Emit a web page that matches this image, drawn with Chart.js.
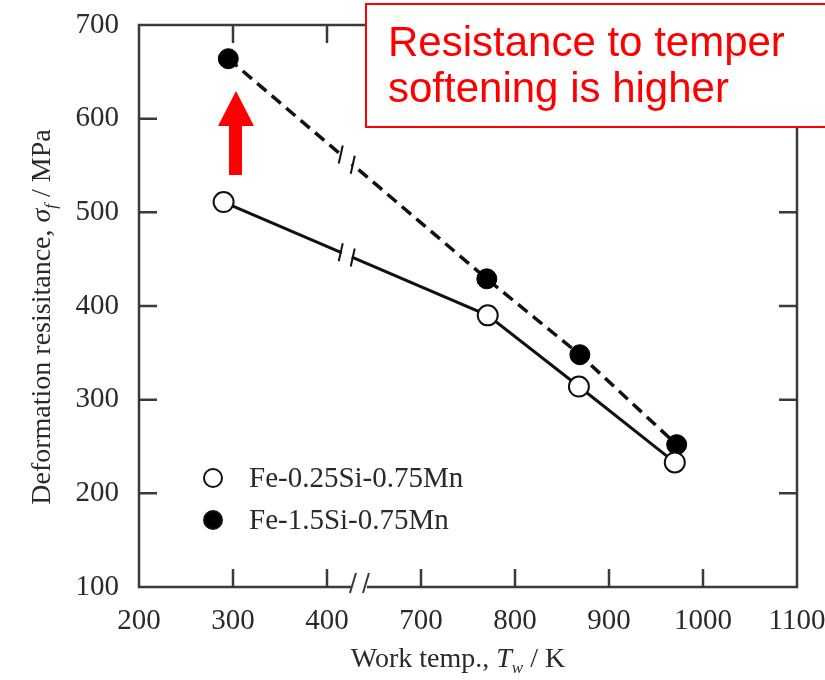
<!DOCTYPE html>
<html>
<head>
<meta charset="utf-8">
<title>Deformation resistance vs work temperature</title>
<script src="https://cdn.jsdelivr.net/npm/chart.js@4.4.0/dist/chart.umd.min.js"></script>
<style>
    html, body { margin: 0; padding: 0; background: #fff; }
    #wrap { width: 825px; height: 680px; position: relative; }
</style>
</head>
<body>
<div id="wrap"><canvas id="chart"></canvas></div>
<script>
// Data (work temperature in K, stress in MPa)
const lowSiTemps = [290, 771, 868, 970];
const lowSiValues = [511, 390, 314, 233];
const highSiTemps = [295, 770, 869, 972];
const highSiValues = [664, 429, 348, 252];
const seriesNames = ['Fe-0.25Si-0.75Mn', 'Fe-1.5Si-0.75Mn'];

// Broken x axis: 200-400 then 700-1100, one slot per tick
const xTickLabels = ['200', '300', '400', '700', '800', '900', '1000', '1100'];
const yTickValues = [100, 200, 300, 400, 500, 600, 700];

const serif = "'Liberation Serif', 'Times New Roman', serif";
const axisColor = '#3a3a3a';

// Map a temperature to its slot on the broken axis
function axisPos(t) {
    return t <= 550 ? (t - 200) / 100 : (t - 700) / 100 + 3;
}

function toPoints(temps, values) {
    return temps.map((t, i) => ({ x: axisPos(t), y: values[i] }));
}

// drop the label overflow padding so the plot box sits where the figure has it
function noScalePadding(scale) {
    scale.paddingTop = 0;
    scale.paddingBottom = 0;
    scale.paddingLeft = 0;
    scale.paddingRight = 0;
}

// Frame, inward ticks, axis break and titles
const framePlugin = {
    id: 'frame',
    beforeDatasetsDraw(chart) {
        const { ctx, chartArea: a, scales: { x, y } } = chart;
        const breakX = x.getPixelForValue(2.34);
        ctx.save();
        ctx.strokeStyle = axisColor;
        ctx.lineWidth = 2.5;
        ctx.lineCap = 'butt';

        // box with a gap in the bottom axis
        ctx.beginPath();
        ctx.moveTo(breakX - 7, a.bottom);
        ctx.lineTo(a.left, a.bottom);
        ctx.lineTo(a.left, a.top);
        ctx.lineTo(a.right, a.top);
        ctx.lineTo(a.right, a.bottom);
        ctx.lineTo(breakX + 8, a.bottom);
        ctx.stroke();

        // break slashes
        ctx.lineWidth = 2;
        [-6, 7].forEach(dx => {
            ctx.beginPath();
            ctx.moveTo(breakX + dx - 3, a.bottom + 6);
            ctx.lineTo(breakX + dx + 3, a.bottom - 14);
            ctx.stroke();
        });

        // inward tick marks
        ctx.lineWidth = 2.5;
        const tl = 18;
        for (let i = 1; i < xTickLabels.length - 1; i++) {
            const px = x.getPixelForValue(i);
            ctx.beginPath();
            ctx.moveTo(px, a.bottom);
            ctx.lineTo(px, a.bottom - tl);
            ctx.moveTo(px, a.top);
            ctx.lineTo(px, a.top + tl);
            ctx.stroke();
        }
        yTickValues.slice(1, -1).forEach(v => {
            const py = y.getPixelForValue(v);
            ctx.beginPath();
            ctx.moveTo(a.left, py);
            ctx.lineTo(a.left + tl, py);
            ctx.moveTo(a.right, py);
            ctx.lineTo(a.right - tl, py);
            ctx.stroke();
        });

        // x title: Work temp., Tw / K
        ctx.fillStyle = '#2a2a2a';
        ctx.textBaseline = 'alphabetic';
        const xParts = [
            { t: 'Work temp., ', f: '28px ' + serif, dy: 0 },
            { t: 'T', f: 'italic 28px ' + serif, dy: 0 },
            { t: 'w', f: 'italic 17px ' + serif, dy: 6 },
            { t: ' / K', f: '28px ' + serif, dy: 0 }
        ];
        drawParts(ctx, xParts, 458, 667);

        // y title, rotated
        ctx.translate(40, 317);
        ctx.rotate(-Math.PI / 2);
        const yParts = [
            { t: 'Deformation resisitance, ', f: '28px ' + serif, dy: 0 },
            { t: '\u03c3', f: 'italic 28px ' + serif, dy: 0 },
            { t: 'f', f: 'italic 17px ' + serif, dy: 6 },
            { t: ' / MPa', f: '28px ' + serif, dy: 0 }
        ];
        drawParts(ctx, yParts, 0, 10);
        ctx.restore();
    },
    afterDatasetsDraw(chart) {
        const { ctx, scales: { x, y } } = chart;
        // break marks on each line between the first two points
        chart.data.datasets.forEach((ds, i) => {
            const p0 = ds.data[0], p1 = ds.data[1];
            const x0 = x.getPixelForValue(p0.x), y0 = y.getPixelForValue(p0.y);
            const x1 = x.getPixelForValue(p1.x), y1 = y.getPixelForValue(p1.y);
            const bx = x.getPixelForValue(2.21);
            const yAt = px => y0 + (y1 - y0) * (px - x0) / (x1 - x0);
            ctx.save();
            ctx.strokeStyle = '#fff';
            ctx.lineWidth = 7;
            ctx.beginPath();
            ctx.moveTo(bx - 5, yAt(bx - 5));
            ctx.lineTo(bx + 5, yAt(bx + 5));
            ctx.stroke();
            ctx.strokeStyle = '#111';
            ctx.lineWidth = 2;
            [-6, 6].forEach(dx => {
                const cy = yAt(bx + dx);
                ctx.beginPath();
                ctx.moveTo(bx + dx - 2, cy + 9);
                ctx.lineTo(bx + dx + 2, cy - 9);
                ctx.stroke();
            });
            ctx.restore();
        });
    },
    afterDraw(chart) {
        const { ctx } = chart;
        ctx.save();
        // legend inside the plot
        const rows = [[213, 478], [213, 520]];
        chart.data.datasets.forEach((ds, i) => {
            const [cx, cy] = rows[i];
            ctx.beginPath();
            ctx.arc(cx, cy, 9, 0, Math.PI * 2);
            ctx.fillStyle = ds.pointBackgroundColor;
            ctx.fill();
            ctx.lineWidth = 2;
            ctx.strokeStyle = '#111';
            ctx.stroke();
            ctx.fillStyle = '#2a2a2a';
            ctx.font = '29px ' + serif;
            ctx.textBaseline = 'middle';
            ctx.textAlign = 'left';
            ctx.fillText(ds.label, 249, cy + 1);
        });

        // red arrow
        ctx.fillStyle = '#ff0000';
        ctx.beginPath();
        ctx.moveTo(236, 91);
        ctx.lineTo(254, 126);
        ctx.lineTo(242, 126);
        ctx.lineTo(242, 175);
        ctx.lineTo(229, 175);
        ctx.lineTo(229, 126);
        ctx.lineTo(218, 126);
        ctx.closePath();
        ctx.fill();

        // callout box
        ctx.fillStyle = '#fff';
        ctx.fillRect(366, 4, 470, 123);
        ctx.strokeStyle = '#ff0000';
        ctx.lineWidth = 2;
        ctx.strokeRect(366, 4, 470, 123);
        ctx.fillStyle = '#ff0000';
        ctx.font = "42px 'Liberation Sans', Arial, sans-serif";
        ctx.textBaseline = 'alphabetic';
        ctx.textAlign = 'left';
        ctx.fillText('Resistance to temper', 388, 56);
        ctx.fillText('softening is higher', 388, 102);
        ctx.restore();
    }
};

function drawParts(ctx, parts, cx, baseline) {
    let total = 0;
    parts.forEach(p => { ctx.font = p.f; total += ctx.measureText(p.t).width; });
    let px = cx - total / 2;
    ctx.textAlign = 'left';
    parts.forEach(p => {
        ctx.font = p.f;
        ctx.fillText(p.t, px, baseline + p.dy);
        px += ctx.measureText(p.t).width;
    });
}

const ctx = document.getElementById('chart');
new Chart(ctx, {
    type: 'line',
    data: {
        datasets: [
            {
                label: seriesNames[0],
                data: toPoints(lowSiTemps, lowSiValues),
                borderColor: '#111',
                borderWidth: 3,
                pointRadius: 10,
                pointBorderWidth: 2,
                pointBackgroundColor: '#fff',
                pointBorderColor: '#111',
                tension: 0
            },
            {
                label: seriesNames[1],
                data: toPoints(highSiTemps, highSiValues),
                borderColor: '#111',
                borderWidth: 3.5,
                borderDash: [12, 7],
                pointRadius: 10,
                pointBorderWidth: 1,
                pointBackgroundColor: '#000',
                pointBorderColor: '#000',
                tension: 0
            }
        ]
    },
    options: {
        responsive: true,
        maintainAspectRatio: false,
        animation: false,
        layout: { padding: { top: 25, right: 28, left: 0, bottom: 0 } },
        plugins: {
            legend: { display: false },
            tooltip: { enabled: false }
        },
        scales: {
            x: {
                type: 'linear',
                min: 0,
                max: xTickLabels.length - 1,
                afterBuildTicks: scale => {
                    scale.ticks = xTickLabels.map((_, i) => ({ value: i }));
                },
                afterFit: scale => {
                    scale.height = 93;
                    noScalePadding(scale);
                },
                ticks: {
                    callback: v => xTickLabels[v],
                    font: { family: serif, size: 29 },
                    color: '#2a2a2a',
                    padding: 17,
                    maxRotation: 0,
                    autoSkip: false
                },
                grid: { display: false, drawTicks: false },
                border: { display: false }
            },
            y: {
                min: 100,
                max: 700,
                afterFit: scale => {
                    scale.width = 139;
                    noScalePadding(scale);
                },
                ticks: {
                    stepSize: 100,
                    font: { family: serif, size: 29 },
                    color: '#2a2a2a',
                    padding: 20
                },
                grid: { display: false, drawTicks: false },
                border: { display: false }
            }
        }
    },
    plugins: [framePlugin]
});
</script>
</body>
</html>
